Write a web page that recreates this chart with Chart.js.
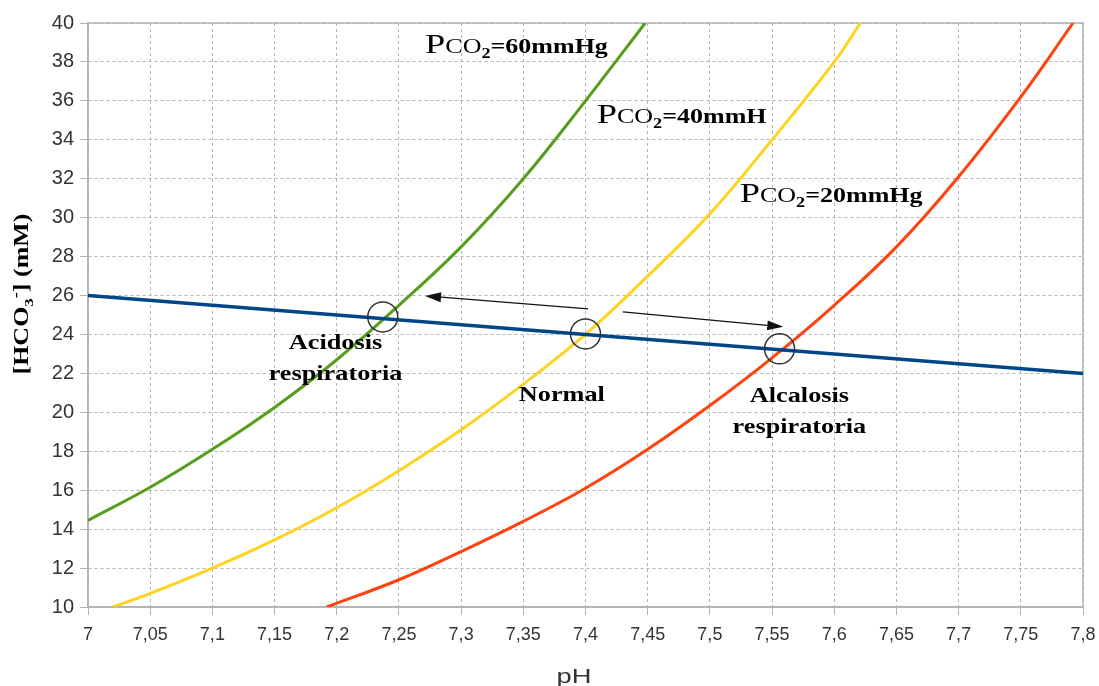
<!DOCTYPE html>
<html>
<head>
<meta charset="utf-8">
<script src="https://cdn.jsdelivr.net/npm/chart.js@4/dist/chart.umd.min.js"></script>
<style>
    body { margin: 0; background: #fff; }
    #wrap { width: 1099px; height: 686px; }
</style>
</head>
<body>
<div id="wrap"><canvas id="ph-chart" width="1099" height="686"></canvas></div>
<script>
// values
const xTicks = [7, 7.8, 0.05];   // min, max, step of pH axis
const yTicks = [10, 40, 2];      // min, max, step of HCO3 axis

const phGreen = [7, 7.05, 7.1, 7.15, 7.2, 7.25, 7.3, 7.35, 7.4, 7.448];
const hco3Green = [14.45, 16.15, 18.1, 20.25, 22.7, 25.5, 28.5, 32, 36, 40];

const phYellow = [7.02, 7.05, 7.1, 7.15, 7.2, 7.25, 7.3, 7.35, 7.4, 7.45, 7.5, 7.55, 7.6, 7.621];
const hco3Yellow = [10, 10.7, 12, 13.45, 15.1, 17, 19.1, 21.45, 24, 27, 30.2, 34, 38, 40];

const phRed = [7.192, 7.25, 7.3, 7.35, 7.4, 7.45, 7.5, 7.55, 7.6, 7.65, 7.7, 7.75, 7.792];
const hco3Red = [10, 11.4, 12.85, 14.4, 16.1, 18.1, 20.35, 22.8, 25.5, 28.5, 32.1, 36.2, 40];

const phBlue = [7, 7.8];
const hco3Blue = [26, 22];

// marked points and arrows (in data units)
const circlePh = [7.237, 7.4, 7.556];
const circleHco3 = [24.9, 24.03, 23.26];
const arrowFrom = [[7.402, 25.31], [7.43, 25.16]];
const arrowTo = [[7.271, 25.98], [7.559, 24.39]];

// curve labels: text after "PCO2", pH and HCO3 of baseline start
const curveLabels = [
    ['=60mmHg', 7.271, 38.46],
    ['=40mmH', 7.409, 34.86],
    ['=20mmHg', 7.524, 30.81]
];
// state labels: lines, pH of centre and HCO3 of first baseline
const stateLabels = [
    [['Acidosis', 'respiratoria'], 7.199, 23.26],
    [['Normal'], 7.381, 20.59],
    [['Alcalosis', 'respiratoria'], 7.572, 20.53]
];

function toPoints(xs, ys) {
    return xs.map((x, i) => ({ x: x, y: ys[i] }));
}

// draws text pieces one after another, stretched sideways like the original
function drawParts(ctx, parts, x, y, align, stretch) {
    let total = 0;
    parts.forEach(p => { ctx.font = p.font; total += ctx.measureText(p.text).width; });
    ctx.save();
    ctx.translate(x, y);
    ctx.scale(stretch, 1);
    ctx.textAlign = 'left';
    let cx = align === 'center' ? -total / 2 : 0;
    parts.forEach(p => {
        ctx.font = p.font;
        ctx.fillText(p.text, cx, p.dy || 0);
        cx += ctx.measureText(p.text).width;
    });
    ctx.restore();
}

const serif = '"Liberation Serif", "Times New Roman", serif';
const sans = '"Liberation Sans", Arial, sans-serif';

const annotations = {
    id: 'annotations',
    beforeDatasetsDraw(chart) {
        const ctx = chart.ctx;
        const a = chart.chartArea;
        ctx.save();
        ctx.strokeStyle = '#b3b3b3';
        ctx.lineWidth = 1.5;
        ctx.strokeRect(a.left, a.top, a.right - a.left, a.bottom - a.top);
        ctx.restore();
    },
    afterDatasetsDraw(chart) {
        const ctx = chart.ctx;
        const xs = chart.scales.x;
        const ys = chart.scales.y;
        ctx.save();

        // circles
        ctx.strokeStyle = '#333';
        ctx.lineWidth = 1.5;
        circlePh.forEach((ph, i) => {
            ctx.beginPath();
            ctx.arc(xs.getPixelForValue(ph), ys.getPixelForValue(circleHco3[i]), 15, 0, Math.PI * 2);
            ctx.stroke();
        });

        // arrows
        ctx.strokeStyle = '#111';
        ctx.fillStyle = '#111';
        ctx.lineWidth = 1.3;
        arrowFrom.forEach((f, i) => {
            const x1 = xs.getPixelForValue(f[0]), y1 = ys.getPixelForValue(f[1]);
            const x2 = xs.getPixelForValue(arrowTo[i][0]), y2 = ys.getPixelForValue(arrowTo[i][1]);
            const ang = Math.atan2(y2 - y1, x2 - x1);
            const len = 16, half = 5;
            const bx = x2 - len * Math.cos(ang), by = y2 - len * Math.sin(ang);
            ctx.beginPath();
            ctx.moveTo(x1, y1);
            ctx.lineTo(bx, by);
            ctx.stroke();
            ctx.beginPath();
            ctx.moveTo(x2, y2);
            ctx.lineTo(bx + half * Math.sin(ang), by - half * Math.cos(ang));
            ctx.lineTo(bx - half * Math.sin(ang), by + half * Math.cos(ang));
            ctx.closePath();
            ctx.fill();
        });

        // curve labels
        ctx.fillStyle = '#000';
        ctx.textBaseline = 'alphabetic';
        curveLabels.forEach(l => {
            drawParts(ctx, [
                { text: 'P', font: '28px ' + serif },
                { text: 'CO', font: '20px ' + serif },
                { text: '2', font: 'bold 14px ' + serif, dy: 5 },
                { text: l[0], font: 'bold 20px ' + serif }
            ], xs.getPixelForValue(l[1]), ys.getPixelForValue(l[2]), 'left', 1.3);
        });

        // state labels
        stateLabels.forEach(l => {
            const x = xs.getPixelForValue(l[1]);
            const y = ys.getPixelForValue(l[2]);
            l[0].forEach((line, j) => {
                drawParts(ctx, [{ text: line, font: 'bold 21px ' + serif }], x, y + j * 31, 'center', 1.25);
            });
        });

        // axis titles
        ctx.fillStyle = '#333';
        drawParts(ctx, [{ text: 'pH', font: '21px ' + sans }], 574, 683, 'center', 1.3);

        ctx.fillStyle = '#000';
        ctx.translate(28, 294);
        ctx.rotate(-Math.PI / 2);
        drawParts(ctx, [
            { text: '[HCO', font: 'bold 20px ' + serif },
            { text: '3', font: 'bold 13px ' + serif, dy: 5 },
            { text: '-', font: 'bold 14px ' + serif, dy: -8 },
            { text: '] (mM)', font: 'bold 20px ' + serif }
        ], 0, 0, 'center', 1.3);
        ctx.restore();
    }
};

function commaLabel(v) {
    return String(Math.round(v * 100) / 100).replace('.', ',');
}

function lineSet(xs, ys, color, width) {
    return {
        data: toPoints(xs, ys),
        borderColor: color,
        backgroundColor: color,
        borderWidth: width,
        showLine: true,
        pointRadius: 0,
        tension: 0.4,
        fill: false
    };
}

document.addEventListener('DOMContentLoaded', function() {
    const ctx = document.getElementById('ph-chart').getContext('2d');

    window.phChart = new Chart(ctx, {
        type: 'scatter',
        data: {
            datasets: [
                lineSet(phBlue, hco3Blue, '#004586', 3.5),
                lineSet(phGreen, hco3Green, '#579d1c', 3),
                lineSet(phYellow, hco3Yellow, '#ffd320', 3),
                lineSet(phRed, hco3Red, '#ff420e', 3)
            ]
        },
        options: {
            responsive: false,
            animation: false,
            devicePixelRatio: 1,
            layout: { padding: { top: 23, right: 16, left: 0, bottom: 0 } },
            plugins: { legend: { display: false }, tooltip: { enabled: false } },
            scales: {
                x: {
                    type: 'linear',
                    min: xTicks[0],
                    max: xTicks[1],
                    afterFit: scale => {
                        scale.height = 79;
                        scale.paddingLeft = 0;
                        scale.paddingRight = 0;
                    },
                    ticks: {
                        stepSize: xTicks[2],
                        autoSkip: false,
                        maxRotation: 0,
                        padding: 9,
                        color: '#333',
                        font: { family: sans, size: 18 },
                        callback: v => commaLabel(v)
                    },
                    grid: { color: '#b3b3b3', tickLength: 8, tickColor: '#b3b3b3' },
                    border: { color: '#b3b3b3', width: 1.5, dash: [3, 3] }
                },
                y: {
                    min: yTicks[0],
                    max: yTicks[1],
                    afterFit: scale => {
                        scale.width = 88;
                        scale.paddingTop = 0;
                        scale.paddingBottom = 0;
                    },
                    ticks: {
                        stepSize: yTicks[2],
                        padding: 6,
                        color: '#333',
                        font: { family: sans, size: 20 },
                        callback: v => commaLabel(v)
                    },
                    grid: { color: '#b3b3b3', tickLength: 8, tickColor: '#b3b3b3' },
                    border: { color: '#b3b3b3', width: 1.5, dash: [3, 3] }
                }
            }
        },
        plugins: [annotations]
    });
});
</script>
</body>
</html>
